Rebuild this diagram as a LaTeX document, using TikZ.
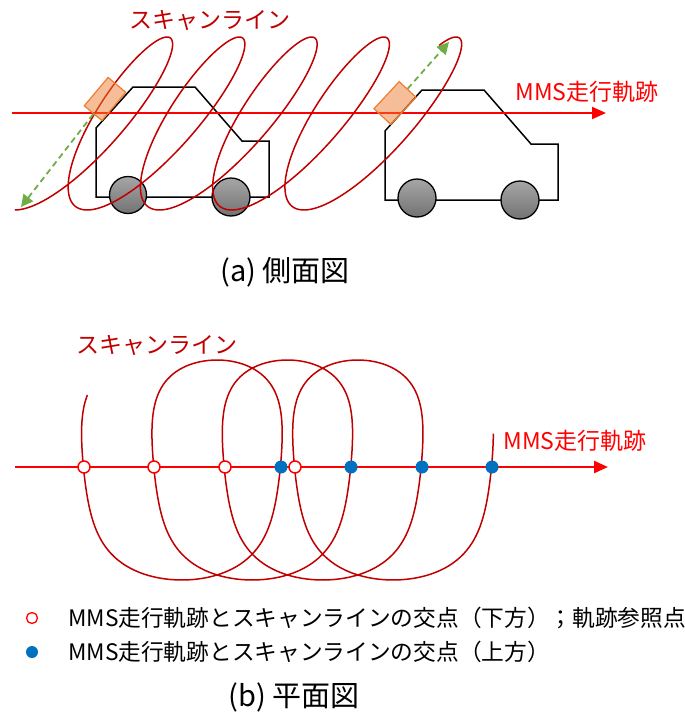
\documentclass[tikz,border=0pt]{standalone}
\usepackage{fontspec}
\newfontfamily\jp{Noto Sans CJK JP}
\usetikzlibrary{arrows.meta}

\definecolor{trackred}{HTML}{FF0000}
\definecolor{scanred}{HTML}{C00000}
\definecolor{sensororange}{HTML}{ED7D31}
\definecolor{beamgreen}{HTML}{70AD47}
\definecolor{hitblue}{HTML}{0070C0}

\tikzset{
  track/.style={trackred, line width=2pt, -{Triangle[length=14pt,width=12pt]}},
  scan/.style={scanred, line width=1.5pt},
  van/.style={black, line width=1.5pt},
  wheel/.style={draw=black, line width=1.3pt, top color=black!35, bottom color=black!55},
  sensor/.style={draw=sensororange, line width=1.2pt, fill=sensororange, fill opacity=.5,
    minimum width=23pt, minimum height=37pt, inner sep=0pt},
  beam/.style={beamgreen, line width=1.8pt, dash pattern=on 6pt off 4pt,
    -{Triangle[length=12pt,width=12pt]}},
  jptext/.style={font=\jp\fontsize{23}{23}\selectfont, inner sep=0pt},
  legendtext/.style={font=\jp\fontsize{22.7}{22.7}\selectfont, inner sep=0pt, anchor=west},
  captiontext/.style={font=\jp\fontsize{29}{29}\selectfont, inner sep=0pt},
  downhit/.style={circle, draw=trackred, fill=white, line width=1.5pt, minimum size=12pt, inner sep=0pt},
  uphit/.style={circle, fill=hitblue, minimum size=13pt, inner sep=0pt},
}

\begin{document}
\begin{tikzpicture}[x=1pt, y=-1pt]
  \useasboundingbox (0,0) rectangle (685,715);

  % (a) side view: two vans
  \draw[van] (133,87) -- (195,87) -- (242,141) -- (269,141) -- (269,197) -- (96,197) -- (96,128) -- cycle;
  \draw[wheel] (128,195) circle (18.5);
  \draw[wheel] (231,197) circle (19);
  \draw[van] (422,90) -- (484,90) -- (531,144) -- (558,144) -- (558,200) -- (385,200) -- (385,131) -- cycle;
  \draw[wheel] (417,198) circle (19);
  \draw[wheel] (520,200) circle (19);

  % driving track
  \coordinate (trackA0) at (12,113);
  \coordinate (trackA1) at (606,113);
  \draw[track] (trackA0) -- (trackA1);
  \node[jptext, trackred] (trackAlabel) at (587,92) {MMS走行軌跡};

  % scan line seen from the side
  \draw[scan] plot[domain=-3.1416:25.58, samples=500, variable=\t]
    ({109 + 11.5*\t + 58*cos(\t r) - 38*sin(\t r)}, {123.5 - 86.5*cos(\t r)});
  \node[jptext, scanred] (scanAlabel) at (210,20) {スキャンライン};

  % scanner heads and beam direction
  \node[sensor, rotate=-40] (sensA) at (105,99) {};
  \node[sensor, rotate=-43] (sensB) at (395,103) {};
  \coordinate (beamA) at (21,207);
  \coordinate (beamB) at (449,42);
  \draw[beam] (sensA) -- (beamA);
  \draw[beam] (sensB) -- (beamB);

  \node[captiontext] (capA) at (285,272) {(a) 側面図};

  % (b) plan view
  \draw[scan] plot[domain=0.82:23.9, samples=500, variable=\t]
    ({146.7 + 11.2*\t - 80.6*(sin(\t r) + 0.08*sin(3*\t r))/0.92},
     {470 - 110*cos(\t r)});
  \node[jptext, scanred] (scanBlabel) at (157,345) {スキャンライン};

  \coordinate (trackB0) at (15,467);
  \coordinate (trackB1) at (608,467);
  \draw[track, line width=2.4pt] (trackB0) -- (trackB1);
  \node[jptext, trackred] (trackBlabel) at (575,441) {MMS走行軌跡};

  % crossings going down / going up
  \node[downhit] (dn1) at (84,467) {};
  \node[downhit] (dn2) at (154,467) {};
  \node[downhit] (dn3) at (225,467) {};
  \node[downhit] (dn4) at (295,467) {};
  \node[uphit] (up1) at (281,467) {};
  \node[uphit] (up2) at (351,467) {};
  \node[uphit] (up3) at (422,467) {};
  \node[uphit] (up4) at (492,467) {};

  % legend
  \node[downhit, minimum size=11pt, line width=1.3pt] (keyDn) at (32,618) {};
  \node[legendtext] (keyDnText) at (68,618) {MMS走行軌跡とスキャンラインの交点（下方）；軌跡参照点};
  \node[uphit, minimum size=12pt] (keyUp) at (32,652) {};
  \node[legendtext] (keyUpText) at (68,652) {MMS走行軌跡とスキャンラインの交点（上方）};

  \node[captiontext] (capB) at (294,697) {(b) 平面図};
\end{tikzpicture}
\end{document}
